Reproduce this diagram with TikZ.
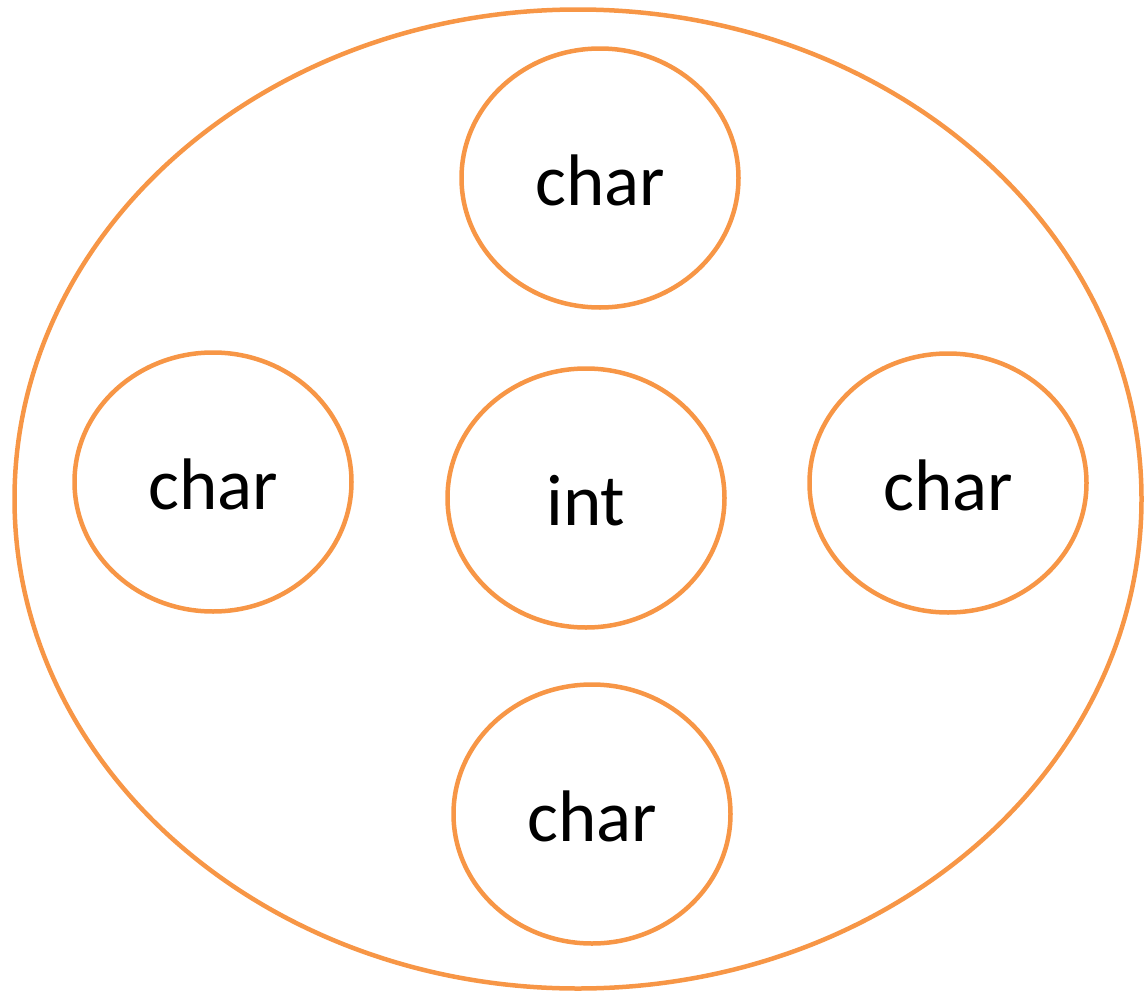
\documentclass[tikz,border=0pt]{standalone}
\usepackage{fontspec}
\setmainfont{Carlito}
\usetikzlibrary{shapes.geometric}
\definecolor{setorange}{HTML}{F79646}
\tikzset{outer/.style={ellipse,draw=setorange,line width=4.5pt,minimum width=1127pt,minimum height=979pt,inner sep=0},
         member/.style={ellipse,draw=setorange,line width=4.5pt,minimum width=277pt,minimum height=259pt,inner sep=0,
                        font=\fontsize{73}{88}\selectfont,text height=54pt,text depth=0pt}
}

\begin{document}
\begin{tikzpicture}[x=1pt,y=-1pt]
  \useasboundingbox(0,0)rectangle(1144,993);
  \node[outer](whole)at(578,499){};
  \node[member](top)at(600,178){char};
  \node[member](left)at(213,482){char};
  \node[member](mid)at(586,498){int};
  \node[member](right)at(948,483){char};
  \node[member](bottom)at(592,814){char};
\end{tikzpicture}
\end{document}
